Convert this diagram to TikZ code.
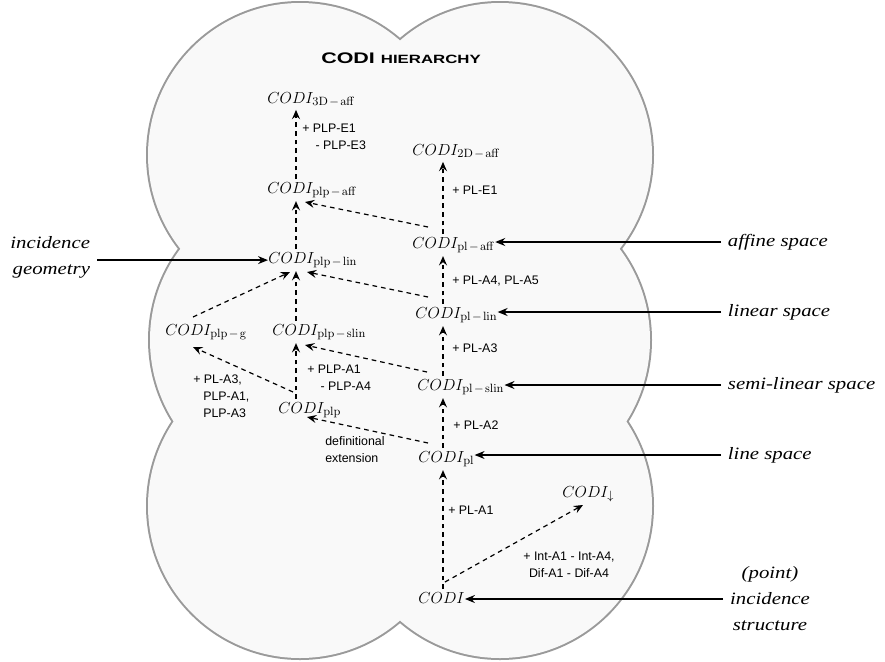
\documentclass[tikz,border=0pt]{standalone}
\usepackage[no-math]{fontspec}
\setmainfont{Liberation Sans}
\newfontfamily\titlefont[FakeStretch=1.4]{Liberation Sans Bold}
\newfontfamily\labfont[FakeStretch=1.2]{Liberation Serif Italic}
\usepackage{tikz}
\usetikzlibrary{arrows.meta,calc}
\DeclareMathSizes{12}{12}{9}{7}
\definecolor{cloudline}{HTML}{9A9A9A}
\definecolor{cloudfill}{HTML}{F9F9F9}
\newcommand{\cd}[1]{$CODI_{\mathrm{#1}}$}
\newcommand{\sm}{\mskip2mu-\mskip2mu}
\tikzset{
  every node/.style={text=black},
  % theories: anchored at the left end of the baseline of the text
  theory/.style={inner xsep=0pt, inner ysep=2pt, anchor=base west, font=\fontsize{12}{14}\selectfont},
  ax/.style={font=\fontsize{9.3}{12.8}\selectfont, align=left, anchor=west, inner sep=0pt},
  space/.style={font=\labfont\fontsize{13}{19.5}\selectfont, anchor=west, align=left, inner xsep=5pt, inner ysep=1pt},
  darr/.style={-{Stealth[length=7pt,width=6pt,inset=2.5pt]}, line width=0.9pt, dash pattern=on 3.5pt off 3pt},
  sarr/.style={-{Stealth[length=7.5pt,width=6pt,inset=2.5pt]}, line width=1pt},
}

\begin{document}
\begin{tikzpicture}[x=0.75pt,y=-0.75pt]
  \useasboundingbox (0,0) rectangle (885,661);

  % the cloud: thick outline first, fill on top keeps the outer half
  \foreach \cx/\cy in {300/155,500/155,302/340,498/340,300/506,500/506}
    \draw[cloudline, line width=3pt] (\cx,\cy) circle [radius=152];
  \foreach \cx/\cy in {300/155,500/155,302/340,498/340,300/506,500/506}
    \fill[cloudfill] (\cx,\cy) circle [radius=152];

  \node (title) at (401,58) {\titlefont\fontsize{11.5}{14}\selectfont CODI \fontsize{9}{14}\selectfont HIERARCHY};

  \coordinate (colplp) at (296,0);
  \coordinate (colpl)  at (443,0);

  \node[theory] (d3)    at (267,103) {\cd{3D\sm aff}};
  \node[theory] (paff)  at (267,193) {\cd{plp\sm aff}};
  \node[theory] (d2)    at (412,155) {\cd{2D\sm aff}};
  \node[theory] (laff)  at (412,248) {\cd{pl\sm aff}};
  \node[theory] (plin)  at (268,263) {\cd{plp\sm lin}};
  \node[theory] (llin)  at (415,318) {\cd{pl\sm lin}};
  \node[theory] (pg)    at (165,335) {\cd{plp\sm g}};
  \node[theory] (pslin) at (272,335) {\cd{plp\sm slin}};
  \node[theory] (lslin) at (417,390) {\cd{pl\sm slin}};
  \node[theory] (plp)   at (278,413) {\cd{plp}};
  \node[theory] (pl)    at (418,462) {\cd{pl}};
  \node[theory] (down)  at (562,497) {$CODI_{\downarrow}$};
  \node[theory] (codi)  at (418,603) {$CODI$};

  % right column
  \draw[darr] (codi.north -| colpl) -- (pl.south -| colpl);
  \draw[darr] (pl.north -| colpl) -- (lslin.south -| colpl);
  \draw[darr] (lslin.north -| colpl) -- (llin.south -| colpl);
  \draw[darr] (llin.north -| colpl) -- (laff.south -| colpl);
  \draw[darr] (laff.north -| colpl) -- (d2.south -| colpl);
  % left column
  \draw[darr] (plp.north -| colplp) -- (pslin.south -| colplp);
  \draw[darr] (pslin.north -| colplp) -- (plin.south -| colplp);
  \draw[darr] (plin.north -| colplp) -- (paff.south -| colplp);
  \draw[darr] (paff.north -| colplp) -- (d3.south -| colplp);
  % across
  \draw[darr] ($(codi.base west)+(27,-21)$) -- ($(down.base west)+(21,8)$);
  \draw[darr] ($(pl.base west)+(10,-19)$) -- ($(plp.base west)+(29,4)$);
  \draw[darr] ($(lslin.base west)+(10,-18)$) -- ($(pslin.base west)+(33,10)$);
  \draw[darr] ($(plp.base west)+(15,-21)$) -- ($(pg.base west)+(28,12)$);
  \draw[darr] ($(pg.base west)+(28,-18)$) -- ($(plin.base west)+(22,9)$);
  \draw[darr] ($(llin.base west)+(13,-21)$) -- ($(plin.base west)+(39,9)$);
  \draw[darr] ($(laff.base west)+(16,-21)$) -- ($(paff.base west)+(38,9)$);

  \node[ax] (a1)   at (448,510) {+ PL-A1};
  \node[ax, anchor=center, align=center] (intdif) at (569,565) {+ Int-A1 - Int-A4,\\Dif-A1 - Dif-A4};
  \node[ax] (a2)   at (453,425) {+ PL-A2};
  \node[ax] (defx) at (325,450) {definitional\\extension};
  \node[ax] (a3)   at (452,348) {+ PL-A3};
  \node[ax] (pa14) at (307,378) {+ PLP-A1\\\hspace*{10pt}- PLP-A4};
  \node[ax] (pg3)  at (193,396) {+ PL-A3,\\\hspace*{7.5pt}PLP-A1,\\\hspace*{7.5pt}PLP-A3};
  \node[ax] (a45)  at (452,281) {+ PL-A4, PL-A5};
  \node[ax] (e1)   at (452,190) {+ PL-E1};
  \node[ax] (pe13) at (302,137) {+ PLP-E1\\\hspace*{10pt}- PLP-E3};

  % what the theories describe
  \node[space, anchor=east, align=right] (incgeo) at (97,257) {incidence\\geometry};
  \node[space] (affsp)  at (721,242) {affine space};
  \node[space] (linsp)  at (721,312) {linear space};
  \node[space] (slinsp) at (721,385) {semi-linear space};
  \node[space] (lsp)    at (721,455) {line space};
  \node[space, anchor=center, align=center] (pis) at (770,599) {(point)\\incidence\\structure};

  \draw[sarr] (incgeo.east |- plin.west) -- (plin.west);
  \draw[sarr] (affsp.west) -- (affsp.west -| laff.east);
  \draw[sarr] (linsp.west) -- (linsp.west -| llin.east);
  \draw[sarr] (slinsp.west) -- (slinsp.west -| lslin.east);
  \draw[sarr] (lsp.west) -- (lsp.west -| pl.east);
  \draw[sarr] (pis.west) -- (pis.west -| codi.east);
\end{tikzpicture}
\end{document}
